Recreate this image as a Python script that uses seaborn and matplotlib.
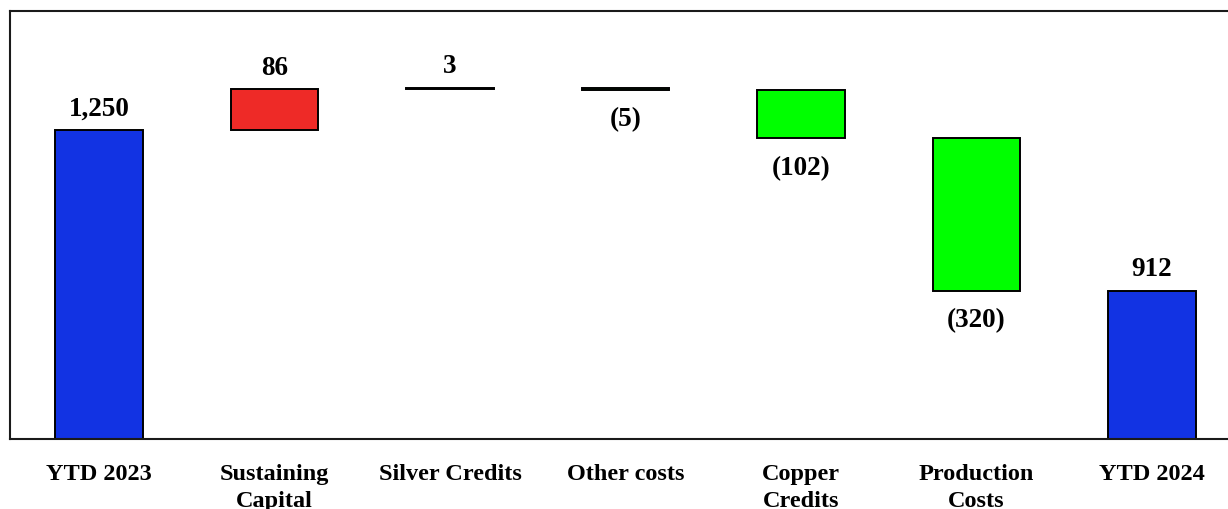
import matplotlib
matplotlib.use("Agg")
import matplotlib.pyplot as plt
import seaborn as sns
import numpy as np

# Cost bridge: opening total, changes, closing total
categories = ["YTD 2023", "Sustaining\nCapital", "Silver Credits", "Other costs",
              "Copper\nCredits", "Production\nCosts", "YTD 2024"]
changes = [1250, 86, 3, -5, -102, -320, 912]
kinds = ["total", "up", "up", "down", "down", "down", "total"]
value_labels = ["1,250", "86", "3", "(5)", "(102)", "(320)", "912"]

kind_colors = {"total": "#1233E3", "up": "#EE2A27", "down": "#00FF00"}

# Floating segments: each change starts where the running total stood
bottoms, heights = [], []
running = 0
for chg, kind in zip(changes, kinds):
    if kind == "total":
        bottoms.append(0)
        heights.append(chg)
        running = chg
    else:
        lo = min(running, running + chg)
        bottoms.append(lo)
        heights.append(abs(chg))
        running += chg

sns.set_theme(style="white")
plt.rcParams["font.family"] = ["Liberation Serif", "DejaVu Serif"]

W, H = 1228, 510
fig = plt.figure(figsize=(W / 100, H / 100), dpi=100)
ax = fig.add_axes([10 / W, 70 / H, 1231 / W, 428 / H])

palette = [kind_colors[k] for k in kinds]
sns.barplot(x=categories, y=heights, hue=categories, palette=palette,
            legend=False, width=0.5, edgecolor="black", linewidth=1.4,
            saturation=1, ax=ax)

# lift each segment onto its running-total base
for patch, b in zip(ax.patches, bottoms):
    patch.set_y(b)

ax.set_ylim(600, 1500)
ax.set_xlim(-0.507, 6.507)

for i, (b, h, kind, lab) in enumerate(zip(bottoms, heights, kinds, value_labels)):
    if kind == "down":
        ax.annotate(lab, (i, b), xytext=(0, -12), textcoords="offset points",
                    ha="center", va="top", fontsize=19.5, fontweight="bold",
                    color="black")
    else:
        ax.annotate(lab, (i, b + h), xytext=(0, 11), textcoords="offset points",
                    ha="center", va="baseline", fontsize=19.5, fontweight="bold",
                    color="black")

ax.set_yticks([])
ax.set_xlabel("")
ax.set_ylabel("")
ax.tick_params(axis="x", length=0, pad=17)
for lbl in ax.get_xticklabels():
    lbl.set_fontsize(17.5)
    lbl.set_fontweight("bold")
    lbl.set_color("black")
    lbl.set_linespacing(1.4)
    lbl.set_verticalalignment("top")

for side in ["left", "top", "bottom"]:
    ax.spines[side].set_visible(True)
    ax.spines[side].set_color("#1a1a1a")
    ax.spines[side].set_linewidth(1.5)
ax.spines["right"].set_visible(False)

fig.savefig("out.png", dpi=100, facecolor="white")
